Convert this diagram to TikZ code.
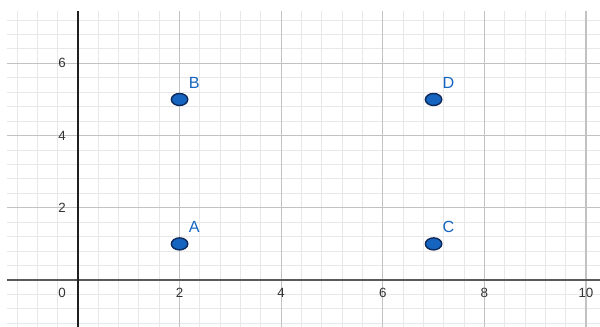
\documentclass[tikz,border=0pt]{standalone}
\usepackage{fontspec}
\setmainfont{Liberation Sans}
\usetikzlibrary{shapes.geometric}
\definecolor{ptblue}{RGB}{21,101,192}
\definecolor{ptedge}{RGB}{14,42,92}
\tikzset{
  minorgrid/.style={draw=black!9, line width=0.7pt},
  majorgrid/.style={draw=black!24, line width=0.8pt},
  ticklbl/.style={text=black!80, font=\fontsize{9.5}{9.5}\selectfont, inner sep=0pt},
  pt/.style={ellipse, fill=ptblue, draw=ptedge, line width=1pt, minimum width=0.41cm, minimum height=0.3cm, inner sep=0pt},
  ptlbl/.style={text=ptblue, font=\fontsize{11.5}{11.5}\selectfont, inner sep=0pt}
}
\begin{document}
\begin{tikzpicture}[x=1.27cm, y=0.9025cm]
  \useasboundingbox[fill=white] (-1.535,-1.302) rectangle (10.276,7.756);
  \draw[minorgrid, xstep=0.4, ystep=0.4] (-1.4,-1.302) grid (10.276,7.45);
  \draw[majorgrid, step=2] (-1.4,-1.302) grid (10.276,7.45);

  \draw[line width=1pt, black!65] (-1.4,0) -- (10.276,0);
  \draw[line width=1.4pt, black!88] (0,-1.302) -- (0,7.45);

  \node[ticklbl] (o) at ([xshift=-0.4cm, yshift=-0.325cm]0,0) {0};
  \foreach \x in {2,4,...,10}
    \node[ticklbl] (x\x) at ([yshift=-0.325cm]\x,0) {\x};
  \foreach \y in {2,4,6}
    \node[ticklbl] (y\y) at ([xshift=-0.4cm]0,\y) {\y};

  \node[pt] (A) at (2,1) {};
  \node[pt] (B) at (2,5) {};
  \node[pt] (C) at (7,1) {};
  \node[pt] (D) at (7,5) {};
  \node[ptlbl] (labA) at ([shift={(0.37cm,0.42cm)}]A.center) {A};
  \node[ptlbl] (labB) at ([shift={(0.37cm,0.42cm)}]B.center) {B};
  \node[ptlbl] (labC) at ([shift={(0.37cm,0.42cm)}]C.center) {C};
  \node[ptlbl] (labD) at ([shift={(0.37cm,0.42cm)}]D.center) {D};
\end{tikzpicture}
\end{document}
